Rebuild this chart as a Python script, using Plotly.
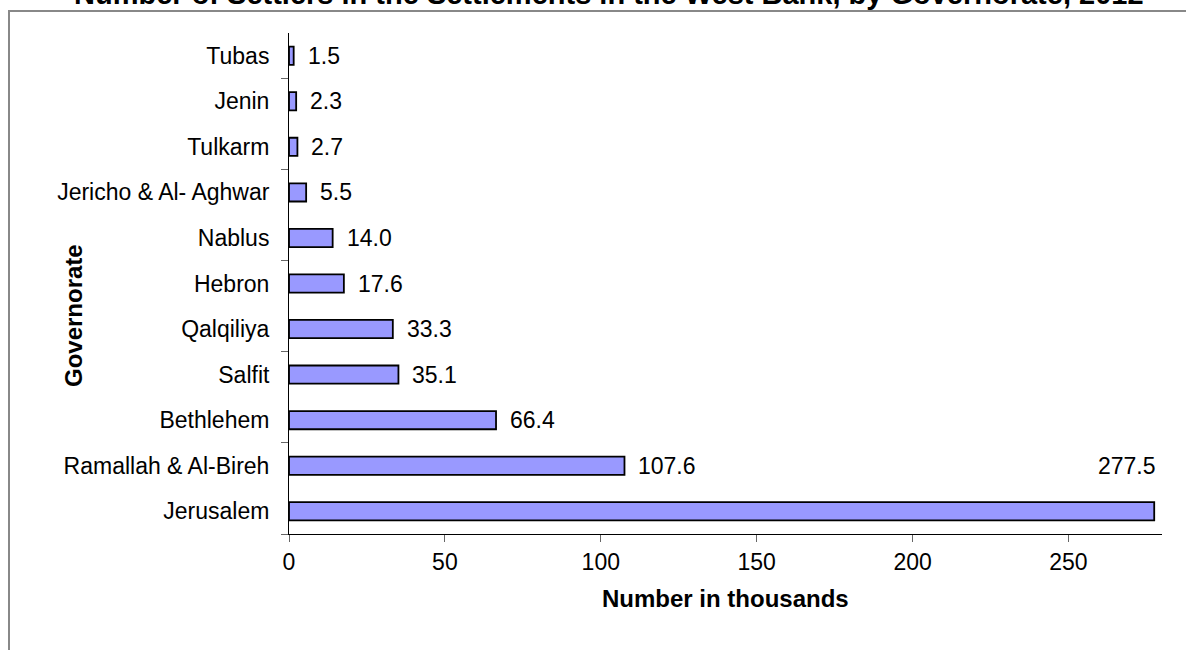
import plotly.graph_objects as go

# ---- data ----
governorates = ["Jerusalem", "Ramallah & Al-Bireh", "Bethlehem", "Salfit", "Qalqiliya",
                "Hebron", "Nablus", "Jericho & Al- Aghwar", "Tulkarm", "Jenin", "Tubas"]
settlers_thousands = [277.5, 107.6, 66.4, 35.1, 33.3, 17.6, 14.0, 5.5, 2.7, 2.3, 1.5]
x_ticks = [0, 50, 100, 150, 200, 250]
title_text = "Number of Settlers in the Settlements in the West Bank, by Governorate, 2012"
x_title = "Number in thousands"
y_title = "Governorate"

# page body margin is removed (post_script), so the figure fills the whole window
W, H = 1186, 650
L, R, T, B = 289, 24, 33, 116
pw, ph = W - L - R, H - T - B

def px_x(x):  # window pixel -> paper x
    return (x - L) / pw

def px_y(y):  # window pixel -> paper y
    return (H - B - y) / ph

FONT = "Liberation Sans, Arial, sans-serif"
idx = list(range(len(governorates)))

fig = go.Figure()
fig.add_trace(go.Bar(
    y=idx, x=settlers_thousands, orientation="h", width=0.4,
    marker=dict(color="#9999FF", line=dict(color="black", width=1.8)),
    hoverinfo="x+text", hovertext=governorates, showlegend=False,
))

annotations = []
for i, v in enumerate(settlers_thousands):
    if i == 0:
        annotations.append(dict(x=v, y=1, xref="x", yref="y", text=f"{v:.1f}",
                                showarrow=False, xanchor="right", yanchor="middle", xshift=4,
                                font=dict(family=FONT, size=23, color="black")))
    else:
        annotations.append(dict(x=v, y=i, xref="x", yref="y", text=f"{v:.1f}",
                                showarrow=False, xanchor="left", yanchor="middle", xshift=12,
                                font=dict(family=FONT, size=23, color="black")))

annotations.append(dict(x=px_x(609), y=px_y(-6), xref="paper", yref="paper",
                        text=f"<b>{title_text}</b>", showarrow=False,
                        xanchor="center", yanchor="middle",
                        font=dict(family=FONT, size=29, color="black")))
annotations.append(dict(x=px_x(725), y=px_y(598), xref="paper", yref="paper",
                        text=f"<b>{x_title}</b>", showarrow=False,
                        xanchor="center", yanchor="middle",
                        font=dict(family=FONT, size=24, color="black")))
annotations.append(dict(x=px_x(73), y=px_y(316), xref="paper", yref="paper",
                        text=f"<b>{y_title}</b>", showarrow=False, textangle=-90,
                        xanchor="center", yanchor="middle",
                        font=dict(family=FONT, size=24, color="black")))

fig.update_layout(
    width=W, height=H,
    margin=dict(l=L, r=R, t=T, b=B, pad=0),
    paper_bgcolor="white", plot_bgcolor="white",
    font=dict(family=FONT, size=23, color="black"),
    annotations=annotations,
    shapes=[dict(type="rect", xref="paper", yref="paper",
                 x0=px_x(9), x1=px_x(1240), y0=px_y(700), y1=px_y(11),
                 line=dict(color="#888888", width=2), fillcolor="rgba(0,0,0,0)",
                 layer="above")],
    xaxis=dict(range=[0, 280], tickvals=x_ticks, ticks="outside", ticklen=7,
               tickcolor="#666666", showline=True, linecolor="black", linewidth=1,
               showgrid=False, zeroline=False,
               tickfont=dict(family=FONT, size=23, color="black")),
    yaxis=dict(range=[-0.5, len(governorates) - 0.5], tickvals=idx, ticktext=governorates,
               ticks="outside", ticklen=14, tickcolor="rgba(0,0,0,0)",
               showline=True, linecolor="black", linewidth=1,
               showgrid=False, zeroline=False,
               tickfont=dict(family=FONT, size=23, color="black"),
               minor=dict(tickvals=[k - 0.5 for k in range(0, len(governorates), 2)],
                          ticks="outside", ticklen=7, tickcolor="#666666", showgrid=False)),
)

fig.write_html("out.html", config={"displayModeBar": False},
               post_script="document.body.style.margin='0';document.body.style.overflow='hidden';")
